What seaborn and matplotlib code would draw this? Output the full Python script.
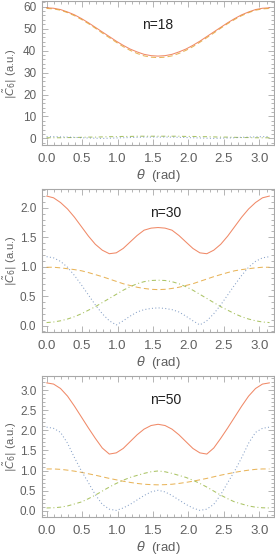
import matplotlib
matplotlib.use("Agg")
import matplotlib.pyplot as plt
import seaborn as sns
from matplotlib.ticker import MultipleLocator

# Angle samples (rad), 0 .. pi
theta = [0.000, 0.098, 0.196, 0.295, 0.393, 0.491, 0.589, 0.687, 0.785, 0.884, 0.982,
         1.080, 1.178, 1.276, 1.374, 1.473, 1.571, 1.669, 1.767, 1.865, 1.963, 2.062,
         2.160, 2.258, 2.356, 2.454, 2.553, 2.651, 2.749, 2.847, 2.945, 3.043, 3.142]

# n = 18
red_18 = [59.5, 59.3, 58.7, 57.6, 56.3, 54.6, 52.7, 50.6, 48.5, 46.4, 44.3, 42.4, 40.7, 39.4, 38.3, 37.7,
          37.5, 37.7, 38.3, 39.4, 40.7, 42.4, 44.3, 46.4, 48.5, 50.6, 52.7, 54.6, 56.3, 57.6, 58.7, 59.3, 59.5]
orange_18 = [59.2, 59.0, 58.4, 57.3, 55.9, 54.2, 52.3, 50.2, 48.0, 45.9, 43.8, 41.8, 40.1, 38.7, 37.6, 37.0,
             36.8, 37.0, 37.6, 38.7, 40.1, 41.8, 43.8, 45.9, 48.0, 50.2, 52.3, 54.2, 55.9, 57.3, 58.4, 59.0, 59.2]
green_18 = [0.3, 0.3, 0.3, 0.4, 0.4, 0.5, 0.6, 0.6, 0.7, 0.8, 0.8, 0.9, 0.9, 1.0, 1.0, 1.0,
            1.0, 1.0, 1.0, 1.0, 0.9, 0.9, 0.8, 0.8, 0.7, 0.6, 0.6, 0.5, 0.4, 0.4, 0.3, 0.3, 0.3]
blue_18 = [0.8, 0.8, 0.7, 0.6, 0.5, 0.3, 0.2, 0.1, 0.0, 0.1, 0.2, 0.3, 0.4, 0.5, 0.6, 0.6,
           0.6, 0.6, 0.6, 0.5, 0.4, 0.3, 0.2, 0.1, 0.0, 0.1, 0.2, 0.3, 0.5, 0.6, 0.7, 0.8, 0.8]

# n = 30
red_30 = [2.20, 2.17, 2.09, 1.98, 1.84, 1.68, 1.52, 1.38, 1.28, 1.22, 1.235, 1.31, 1.42, 1.53, 1.62, 1.655,
          1.665, 1.655, 1.62, 1.53, 1.42, 1.31, 1.235, 1.22, 1.28, 1.38, 1.52, 1.68, 1.84, 1.98, 2.09, 2.17, 2.20]
orange_30 = [0.99, 0.99, 0.98, 0.965, 0.95, 0.93, 0.90, 0.865, 0.83, 0.79, 0.75, 0.71, 0.68, 0.65, 0.63, 0.615,
             0.61, 0.615, 0.63, 0.65, 0.68, 0.71, 0.75, 0.79, 0.83, 0.865, 0.90, 0.93, 0.95, 0.965, 0.98, 0.99, 0.99]
green_30 = [0.05, 0.06, 0.08, 0.11, 0.15, 0.20, 0.26, 0.32, 0.39, 0.46, 0.53, 0.60, 0.66, 0.71, 0.745, 0.765,
            0.77, 0.765, 0.745, 0.71, 0.66, 0.60, 0.53, 0.46, 0.39, 0.32, 0.26, 0.20, 0.15, 0.11, 0.08, 0.06, 0.05]
blue_30 = [1.17, 1.15, 1.09, 0.99, 0.85, 0.69, 0.52, 0.35, 0.20, 0.08, 0.01, 0.08, 0.16, 0.23, 0.27, 0.29,
           0.30, 0.29, 0.27, 0.23, 0.16, 0.08, 0.01, 0.08, 0.20, 0.35, 0.52, 0.69, 0.85, 0.99, 1.09, 1.15, 1.17]

# n = 50
red_50 = [3.18, 3.15, 3.04, 2.85, 2.60, 2.33, 2.06, 1.80, 1.56, 1.41, 1.44, 1.55, 1.72, 1.89, 2.03, 2.12,
          2.15, 2.12, 2.03, 1.89, 1.72, 1.55, 1.44, 1.41, 1.56, 1.80, 2.06, 2.33, 2.60, 2.85, 3.04, 3.15, 3.18]
orange_50 = [1.04, 1.04, 1.03, 1.01, 0.985, 0.955, 0.92, 0.885, 0.845, 0.805, 0.77, 0.735, 0.705, 0.68, 0.66, 0.65,
             0.645, 0.65, 0.66, 0.68, 0.705, 0.735, 0.77, 0.805, 0.845, 0.885, 0.92, 0.955, 0.985, 1.01, 1.03, 1.04, 1.04]
green_50 = [0.07, 0.075, 0.09, 0.12, 0.17, 0.22, 0.30, 0.39, 0.49, 0.59, 0.68, 0.76, 0.83, 0.88, 0.93, 0.97,
            0.99, 0.97, 0.93, 0.88, 0.83, 0.76, 0.68, 0.59, 0.49, 0.39, 0.30, 0.22, 0.17, 0.12, 0.09, 0.075, 0.07]
blue_50 = [2.08, 2.05, 1.95, 1.68, 1.32, 0.99, 0.70, 0.40, 0.16, 0.04, 0.01, 0.07, 0.16, 0.27, 0.38, 0.47,
           0.51, 0.47, 0.38, 0.27, 0.16, 0.07, 0.01, 0.04, 0.16, 0.40, 0.70, 0.99, 1.32, 1.68, 1.95, 2.05, 2.08]

panel_labels = ["n=18", "n=30", "n=50"]
panel_series = [
    [red_18, orange_18, green_18, blue_18],
    [red_30, orange_30, green_30, blue_30],
    [red_50, orange_50, green_50, blue_50],
]
panel_ylims = [(-3.0, 62.6), (-0.11, 2.32), (-0.155, 3.35)]
panel_ymajor = [10, 0.5, 0.5]
panel_yminor = [2, 0.1, 0.1]
panel_text_x = [0.50, 0.535, 0.535]

# Mathematica-like default palette
colors = ["#EB6235", "#E19C24", "#8FB032", "#5E81B5"]
styles = ["-", (0, (5, 3)), (0, (4, 2.5, 1, 2.5)), (0, (1, 2.2))]

sns.set_style("ticks")
plt.rcParams["font.family"] = ["Liberation Sans", "DejaVu Sans"]
plt.rcParams["mathtext.fontset"] = "dejavusans"

frame_col = "#A8A8A8"
text_col = "#606060"

fig = plt.figure(figsize=(2.75, 5.56), dpi=100)
# [left, bottom, width, height] of each frame
boxes = [
    [0.1527, 0.7392, 0.8436, 0.2590],
    [0.1527, 0.4029, 0.8436, 0.2572],
    [0.1527, 0.0701, 0.8436, 0.2536],
]

for i, box in enumerate(boxes):
    ax = fig.add_axes(box)
    for vals, col, ls in zip(panel_series[i], colors, styles):
        sns.lineplot(x=theta, y=vals, ax=ax, color=col, linestyle=ls, linewidth=0.75, alpha=0.75)

    ax.set_xlim(-0.065, 3.205)
    ax.set_ylim(*panel_ylims[i])
    ax.xaxis.set_major_locator(MultipleLocator(0.5))
    ax.xaxis.set_minor_locator(MultipleLocator(0.1))
    ax.yaxis.set_major_locator(MultipleLocator(panel_ymajor[i]))
    ax.yaxis.set_minor_locator(MultipleLocator(panel_yminor[i]))
    if i == 0:
        ax.yaxis.set_major_formatter(plt.FormatStrFormatter("%d"))
    else:
        ax.yaxis.set_major_formatter(plt.FormatStrFormatter("%.1f"))
    ax.xaxis.set_major_formatter(plt.FormatStrFormatter("%.1f"))

    for side in ["top", "right", "bottom", "left"]:
        ax.spines[side].set_visible(True)
        ax.spines[side].set_color(frame_col)
        ax.spines[side].set_linewidth(0.8)
    ax.tick_params(which="both", direction="in", top=True, right=True,
                   color=frame_col, width=0.6, labelcolor=text_col)
    ax.tick_params(axis="x", which="major", length=4, pad=5.5, labelsize=9.5)
    ax.tick_params(axis="y", which="major", length=4, pad=4, labelsize=8.5)
    ax.tick_params(which="minor", length=2)

    ax.set_xlabel(r"$\theta$  (rad)", fontsize=9.5, color=text_col, labelpad=2)
    ax.set_ylabel(r"$|\tilde{C}_6|$ (a.u.)", fontsize=8, color=text_col)
    ax.yaxis.set_label_coords(-0.098, 0.5)
    ax.text(panel_text_x[i], 0.83, panel_labels[i], transform=ax.transAxes,
            ha="center", va="center", fontsize=10, color="#202020")

plt.savefig("out.png", dpi=100)
